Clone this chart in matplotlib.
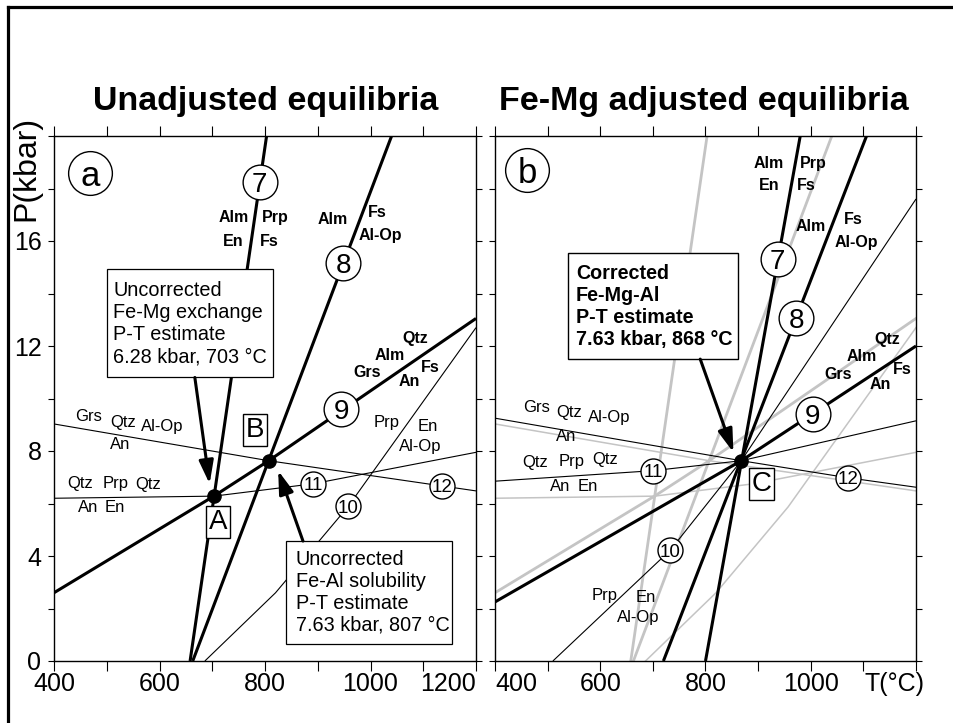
import matplotlib
matplotlib.use("Agg")
import matplotlib.pyplot as plt
from matplotlib.lines import Line2D
from matplotlib.patches import Rectangle

plt.rcParams['font.family'] = ['Liberation Sans', 'DejaVu Sans']

# unadjusted equilibria (T in degC, P in kbar)
r7_T = [658, 803]
r7_P = [0, 20]
r8_T = [663, 1040]
r8_P = [0, 20]
r9_T = [400, 703, 807, 1200]
r9_P = [2.6, 6.28, 7.63, 13.05]
r10_T = [686, 820, 957, 1200]
r10_P = [0, 2.6, 5.87, 12.7]
r11_T = [400, 703, 891, 1200]
r11_P = [6.2, 6.28, 6.75, 7.95]
r12_T = [400, 807, 1135, 1200]
r12_P = [9.03, 7.63, 6.67, 6.48]

# Fe-Mg adjusted equilibria
c7_T = [800, 980]
c7_P = [0, 20]
c8_T = [720, 1106]
c8_P = [0, 20]
c9_T = [400, 868, 1200]
c9_P = [2.25, 7.63, 12.0]
c10_T = [510, 733, 868, 1200]
c10_P = [0, 4.22, 7.63, 17.6]
c11_T = [400, 700, 868, 1200]
c11_P = [6.85, 7.25, 7.63, 9.15]
c12_T = [400, 868, 1071, 1200]
c12_P = [9.25, 7.63, 6.98, 6.62]

# P-T estimates
est_A = (703, 6.28)
est_B = (807, 7.63)
est_C = (868, 7.63)

raw_lines = [(r7_T, r7_P, True), (r8_T, r8_P, True), (r9_T, r9_P, True),
             (r10_T, r10_P, False), (r11_T, r11_P, False), (r12_T, r12_P, False)]
adj_lines = [(c7_T, c7_P, True), (c8_T, c8_P, True), (c9_T, c9_P, True),
             (c10_T, c10_P, False), (c11_T, c11_P, False), (c12_T, c12_P, False)]

# circled reaction numbers: (label, T, P, big)
nums_a = [('7', 790, 18.26, True), ('8', 948, 15.15, True), ('9', 945, 9.6, True),
          ('10', 958, 5.9, False), ('11', 891, 6.75, False), ('12', 1135, 6.67, False)]
nums_b = [('7', 937, 15.3, True), ('8', 972, 13.07, True), ('9', 1004, 9.42, True),
          ('10', 733, 4.22, False), ('11', 700, 7.25, False), ('12', 1071, 6.98, False)]

# mineral labels: (text, T, P, bold)
min_a = [('Alm', 740, 16.9, 1), ('Prp', 819, 16.9, 1), ('En', 740, 16.0, 1), ('Fs', 809, 16.0, 1),
         ('Alm', 929, 16.8, 1), ('Fs', 1012, 17.07, 1), ('Al-Op', 1018, 16.2, 1),
         ('Qtz', 1084, 12.27, 1), ('Alm', 1037, 11.65, 1), ('Grs', 993, 11.0, 1),
         ('Fs', 1113, 11.2, 1), ('An', 1073, 10.63, 1),
         ('Grs', 465, 9.3, 0), ('Qtz', 531, 9.1, 0), ('Al-Op', 605, 8.95, 0), ('An', 525, 8.23, 0),
         ('Qtz', 449, 6.78, 0), ('Prp', 516, 6.78, 0), ('Qtz', 578, 6.74, 0),
         ('An', 465, 5.83, 0), ('En', 516, 5.83, 0),
         ('Prp', 1031, 9.07, 0), ('En', 1109, 8.95, 0), ('Al-Op', 1094, 8.16, 0)]
min_b = [('Alm', 921, 18.97, 1), ('Prp', 1004, 18.97, 1), ('En', 921, 18.13, 1), ('Fs', 991, 18.13, 1),
         ('Alm', 1000, 16.55, 1), ('Fs', 1081, 16.8, 1), ('Al-Op', 1087, 15.94, 1),
         ('Qtz', 1145, 12.23, 1), ('Alm', 1097, 11.6, 1), ('Grs', 1052, 10.93, 1),
         ('Fs', 1173, 11.12, 1), ('An', 1133, 10.55, 1),
         ('Grs', 479, 9.64, 0), ('Qtz', 541, 9.46, 0), ('Al-Op', 617, 9.29, 0), ('An', 536, 8.55, 0),
         ('Qtz', 476, 7.58, 0), ('Prp', 546, 7.6, 0), ('Qtz', 610, 7.66, 0),
         ('An', 523, 6.64, 0), ('En', 576, 6.66, 0),
         ('Prp', 609, 2.48, 0), ('En', 687, 2.4, 0), ('Al-Op', 672, 1.64, 0)]

xticks = [400, 600, 800, 1000, 1200]
xminor = [500, 700, 900, 1100]
yticks = [0, 4, 8, 12, 16]
yminor = [2, 6, 10, 14, 18, 20]

GRAY = '#c4c4c4'

fig = plt.figure(figsize=(9.54, 7.23), dpi=100)
fig.patch.set_facecolor('white')
axa = fig.add_axes([54/954, 62/723, 422/954, 525/723])
axb = fig.add_axes([495/954, 62/723, 421/954, 525/723])

for ax in (axa, axb):
    ax.set_xlim(400, 1200)
    ax.set_ylim(0, 20)
    ax.set_xticks(xticks)
    ax.set_xticks(xminor, minor=True)
    ax.set_yticks(yticks)
    ax.set_yticks(yminor, minor=True)
    ax.tick_params(axis='x', which='both', direction='out', top=True, length=7, width=0.8,
                   labelsize=18, pad=1)
    ax.tick_params(axis='y', which='both', direction='out', right=True, length=4, width=0.8,
                   labelsize=18, pad=5)
    for s in ax.spines.values():
        s.set_linewidth(1.0)

axa.set_xticklabels(['400', '600', '800', '1000', '1200'])
axa.get_xticklabels()[-1].set_ha('right')
axb.set_xticklabels(['400', '600', '800', '1000', ''])
axb.get_xticklabels()[0].set_ha('left')
axb.set_yticklabels([])


def circled(ax, label, x, y, big):
    ms = 25 if big else 18
    fs = 20 if big else 13.5
    ax.plot([x], [y], 'o', ms=ms, mfc='white', mec='k', mew=1.0, zorder=6)
    ax.text(x, y, label, ha='center', va='center_baseline', fontsize=fs, zorder=7)


def minerals(ax, items):
    for txt, x, y, b in items:
        ax.text(x, y, txt, ha='center', va='center', fontsize=11.5 if b else 12,
                fontweight='bold' if b else 'normal', zorder=5)


def arrow(ax, start, tip):
    ax.annotate('', xy=tip, xytext=start, zorder=8,
                arrowprops=dict(arrowstyle='-|>,head_length=0.7,head_width=0.22',
                                lw=2.2, color='k', mutation_scale=20,
                                shrinkA=0, shrinkB=0))


def panel_letter(ax, letter, x, y):
    ax.plot([x], [y], 'o', ms=31.5, mfc='white', mec='k', mew=1.0, zorder=6)
    ax.text(x, y, letter, ha='center', va='center_baseline', fontsize=25, zorder=7)


# panel a
for T, P, thick in raw_lines:
    axa.plot(T, P, color='k', lw=2.2 if thick else 0.8, zorder=2, solid_capstyle='butt')

axa.add_patch(Rectangle((500, 10.82), 314.6, 4.11, fc='white', ec='k', lw=0.9, zorder=4))
axa.text(512, 12.85, 'Uncorrected\nFe-Mg exchange\nP-T estimate\n6.28 kbar, 703 °C',
         ha='left', va='center', fontsize=14.3, linespacing=1.2, zorder=5)
axa.add_patch(Rectangle((840, 0.64), 315, 3.93, fc='white', ec='k', lw=0.9, zorder=4))
axa.text(858, 2.62, 'Uncorrected\nFe-Al solubility\nP-T estimate\n7.63 kbar, 807 °C',
         ha='left', va='center', fontsize=14.3, linespacing=1.2, zorder=5)

arrow(axa, (667, 10.8), (695, 6.75))
arrow(axa, (872, 4.57), (825, 7.25))

axa.plot(*est_A, 'o', color='k', ms=9.5, zorder=6)
axa.plot(*est_B, 'o', color='k', ms=9.5, zorder=6)
bx = dict(boxstyle='square,pad=0.1', fc='white', ec='k', lw=1.0)
axa.text(711, 5.3, 'A', ha='center', va='center', fontsize=20, bbox=bx, zorder=7)
axa.text(781, 8.8, 'B', ha='center', va='center', fontsize=20, bbox=bx, zorder=7)

for lab, x, y, big in nums_a:
    circled(axa, lab, x, y, big)
minerals(axa, min_a)
panel_letter(axa, 'a', 468, 18.6)

# panel b
for T, P, thick in raw_lines:
    axb.plot(T, P, color=GRAY, lw=2.0 if thick else 1.1, zorder=1)
for T, P, thick in adj_lines:
    axb.plot(T, P, color='k', lw=2.2 if thick else 0.8, zorder=2, solid_capstyle='butt')

axb.add_patch(Rectangle((538, 11.5), 324, 4.05, fc='white', ec='k', lw=1.0, zorder=4))
axb.text(554, 13.52, 'Corrected\nFe-Mg-Al\nP-T estimate\n7.63 kbar, 868 °C',
         ha='left', va='center', fontsize=14.2, fontweight='bold', linespacing=1.2, zorder=5)
arrow(axb, (790, 11.5), (853, 7.95))

axb.plot(*est_C, 'o', color='k', ms=9.5, zorder=6)
axb.text(906, 6.75, 'C', ha='center', va='center', fontsize=20, bbox=bx, zorder=7)

for lab, x, y, big in nums_b:
    circled(axb, lab, x, y, big)
minerals(axb, min_b)
panel_letter(axb, 'b', 461, 18.7)

# titles and axis labels
fig.text(266/954, 1 - 110/723, 'Unadjusted equilibria', ha='center', va='baseline',
         fontsize=24.5, fontweight='bold')
fig.text(704/954, 1 - 110/723, 'Fe-Mg adjusted equilibria', ha='center', va='baseline',
         fontsize=24.5, fontweight='bold')
fig.text(26/954, 1 - 168/723, 'P(kbar)', ha='center', va='center', rotation=90, fontsize=23)
fig.text(865/954, 1 - 672/723, 'T(°C)', ha='left', va='top', fontsize=18)

# frame lines along the left and top edges
fig.add_artist(Line2D([8/954, 8/954], [0, 1 - 7/723], color='k', lw=2.3))
fig.add_artist(Line2D([8/954, 1], [1 - 7/723, 1 - 7/723], color='k', lw=2.3))

fig.savefig('out.png', dpi=100, facecolor='white')
